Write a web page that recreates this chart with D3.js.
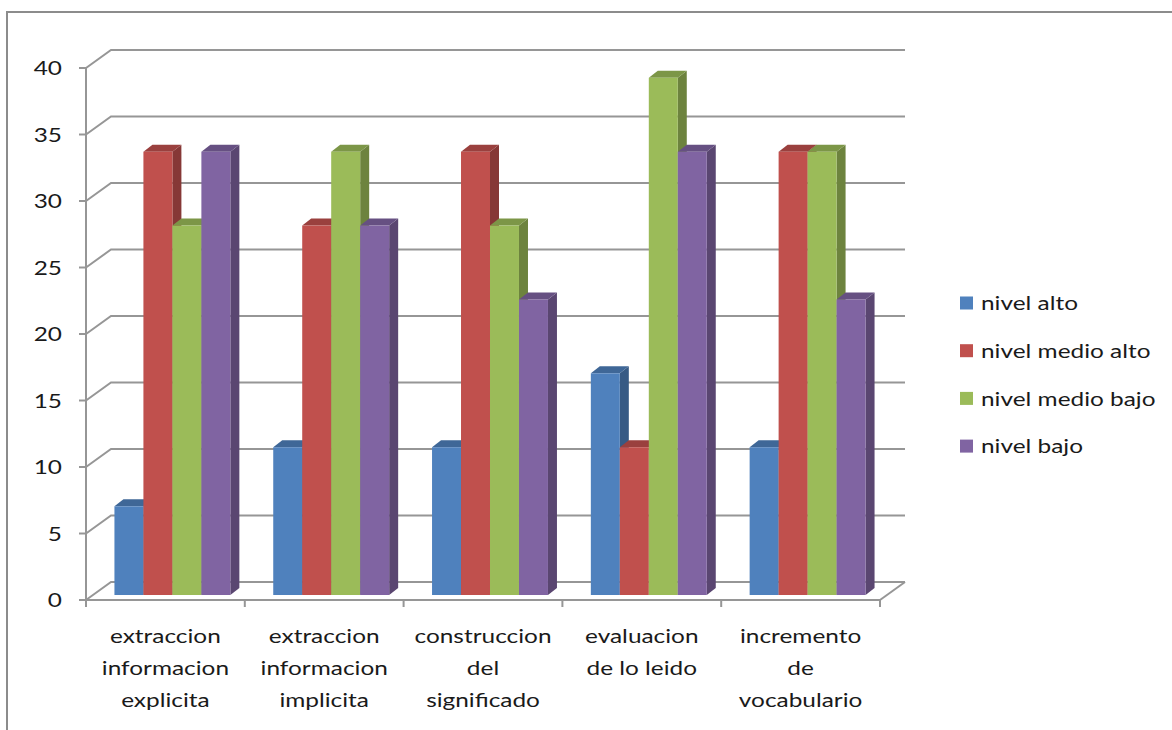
<!DOCTYPE html>
<html>
<head>
<meta charset="utf-8">
<script src="https://cdn.jsdelivr.net/npm/d3@7"></script>
<style>
  body { margin: 0; background: #fff; }
  text { font-family: Lato, "Open Sans", sans-serif; fill: #1a1a1a; }
</style>
</head>
<body>
<div id="chart"></div>
<script>
const WIDTH = 1172;
const HEIGHT = 730;

// data
const categories = [
  ['extraccion', 'informacion', 'explicita'],
  ['extraccion', 'informacion', 'implicita'],
  ['construccion', 'del', 'significado'],
  ['evaluacion', 'de lo leido'],
  ['incremento', 'de', 'vocabulario']
];
const seriesNames = ['nivel alto', 'nivel medio alto', 'nivel medio bajo', 'nivel bajo'];
const nivelAlto = [6.67, 11.11, 11.11, 16.67, 11.11];
const nivelMedioAlto = [33.33, 27.78, 33.33, 11.11, 33.33];
const nivelMedioBajo = [27.78, 33.33, 27.78, 38.89, 33.33];
const nivelBajo = [33.33, 27.78, 22.22, 33.33, 22.22];
const yTicks = [0, 5, 10, 15, 20, 25, 30, 35, 40];

const seriesValues = [nivelAlto, nivelMedioAlto, nivelMedioBajo, nivelBajo];
const colours = ['#4f81bd', '#c0504d', '#9bbb59', '#8064a2'];

// 3d offsets: floor depth, bar front plane, bar thickness
const DEPTH = { x: 25, y: -18 };
const BAR_SHIFT = { x: 7, y: -5 };
const BAR_DEPTH = { x: 9, y: -7 };
// the original picture is a bit stretched sideways, text too
const STRETCH = 1.22;

const svg = d3.select('#chart')
  .append('svg')
    .attr('width', WIDTH)
    .attr('height', HEIGHT);

// chart frame
svg.append('rect')
  .attr('x', 7).attr('y', 12)
  .attr('width', 1300).attr('height', 900)
  .attr('fill', 'none')
  .attr('stroke', '#8c8c8c')
  .attr('stroke-width', 2);

// text placed at (x, y) and widened horizontally
function label(parent, x, y, anchor) {
  return parent.append('text')
    .attr('transform', `translate(${x},${y}) scale(${STRETCH},1)`)
    .attr('text-anchor', anchor)
    .style('font-size', '20px');
}

const keys = categories.map((c, i) => i);

const x0 = d3.scaleBand()
  .domain(keys)
  .range([86, 880])
  .paddingInner(0.27)
  .paddingOuter(0.135);

const x1 = d3.scaleBand()
  .domain(seriesNames)
  .range([0, x0.bandwidth()]);

const y = d3.scaleLinear()
  .domain([0, 40])
  .range([600, 68]);

const xLeft = x0.range()[0];
const xRight = x0.range()[1];
const gridColour = '#969696';

// back wall gridlines + left wall diagonals
const grid = svg.append('g').attr('class', 'grid');
yTicks.forEach(t => {
  grid.append('polyline')
    .attr('points', [
      [xLeft, y(t)],
      [xLeft + DEPTH.x, y(t) + DEPTH.y],
      [xRight + DEPTH.x, y(t) + DEPTH.y]
    ].join(' '))
    .attr('fill', 'none')
    .attr('stroke', gridColour)
    .attr('stroke-width', 2);
});

// floor right edge
grid.append('line')
  .attr('x1', xRight).attr('y1', y(0))
  .attr('x2', xRight + DEPTH.x).attr('y2', y(0) + DEPTH.y)
  .attr('stroke', gridColour).attr('stroke-width', 2);

// y axis
const yAxis = svg.append('g').attr('class', 'y-axis');
yAxis.append('line')
  .attr('x1', xLeft).attr('x2', xLeft)
  .attr('y1', y(40)).attr('y2', y(0))
  .attr('stroke', gridColour).attr('stroke-width', 2);
yTicks.forEach(t => {
  yAxis.append('line')
    .attr('x1', xLeft - 7).attr('x2', xLeft)
    .attr('y1', y(t)).attr('y2', y(t))
    .attr('stroke', gridColour).attr('stroke-width', 2);
  label(yAxis, 62, y(t), 'end')
    .attr('dy', '0.36em')
    .text(t);
});

// x axis
const xAxis = svg.append('g').attr('class', 'x-axis');
xAxis.append('line')
  .attr('x1', xLeft).attr('x2', xRight)
  .attr('y1', y(0)).attr('y2', y(0))
  .attr('stroke', gridColour).attr('stroke-width', 2);
const step = x0.step();
d3.range(keys.length + 1).forEach(i => {
  const xx = xLeft + i * step;
  xAxis.append('line')
    .attr('x1', xx).attr('x2', xx)
    .attr('y1', y(0)).attr('y2', y(0) + 7)
    .attr('stroke', gridColour).attr('stroke-width', 2);
});
keys.forEach(k => {
  const t = label(xAxis, x0(k) + x0.bandwidth() / 2, 643, 'middle');
  categories[k].forEach((line, j) => {
    t.append('tspan')
      .attr('x', 0)
      .attr('y', j * 32)
      .text(line);
  });
});

// bars
function shade(c, f) {
  const col = d3.rgb(c);
  return d3.rgb(col.r * f, col.g * f, col.b * f).formatHex();
}

const bars = svg.append('g').attr('class', 'bars');
keys.forEach(k => {
  seriesNames.forEach((s, si) => {
    const v = seriesValues[si][k];
    const xa = x0(k) + x1(s) + BAR_SHIFT.x;
    const xb = xa + x1.bandwidth();
    const yt = y(v) + BAR_SHIFT.y;
    const yb = y(0) + BAR_SHIFT.y;
    const dx = BAR_DEPTH.x, dy = BAR_DEPTH.y;
    const g = bars.append('g');
    // side
    g.append('polygon')
      .attr('points', [[xb, yt], [xb + dx, yt + dy], [xb + dx, yb + dy], [xb, yb]].join(' '))
      .attr('fill', shade(colours[si], 0.7));
    // top
    g.append('polygon')
      .attr('points', [[xa, yt], [xa + dx, yt + dy], [xb + dx, yt + dy], [xb, yt]].join(' '))
      .attr('fill', shade(colours[si], 0.8));
    // front
    g.append('rect')
      .attr('x', xa).attr('y', yt)
      .attr('width', x1.bandwidth())
      .attr('height', yb - yt)
      .attr('fill', colours[si]);
  });
});

// legend
const legend = svg.append('g').attr('class', 'legend');
seriesNames.forEach((s, i) => {
  const cy = 303 + i * 47.7;
  legend.append('rect')
    .attr('x', 960).attr('y', cy - 6.5)
    .attr('width', 13).attr('height', 13)
    .attr('fill', colours[i]);
  label(legend, 981, cy, 'start')
    .attr('dy', '0.36em')
    .text(s);
});
</script>
</body>
</html>
